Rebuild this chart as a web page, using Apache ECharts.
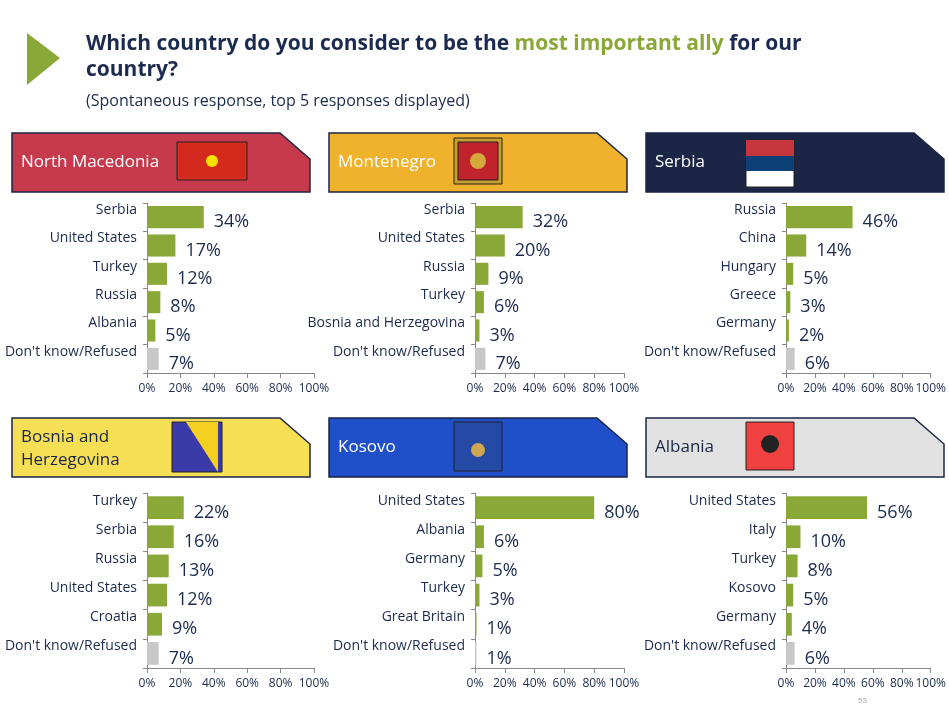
<!DOCTYPE html>
<html>
<head>
<meta charset="utf-8">
<script src="https://cdn.jsdelivr.net/npm/echarts@6/dist/echarts.min.js"></script>
<style>body{margin:0;background:#fff}#main{width:949px;height:716px}</style>
</head>
<body>
<div id="main"></div>
<script>
var panelNames = ['North Macedonia','Montenegro','Serbia','Bosnia and\nHerzegovina','Kosovo','Albania'];
var catsNM = ['Serbia','United States','Turkey','Russia','Albania',"Don't know/Refused"];
var valsNM = [34,17,12,8,5,7];
var catsME = ['Serbia','United States','Russia','Turkey','Bosnia and Herzegovina',"Don't know/Refused"];
var valsME = [32,20,9,6,3,7];
var catsRS = ['Russia','China','Hungary','Greece','Germany',"Don't know/Refused"];
var valsRS = [46,14,5,3,2,6];
var catsBA = ['Turkey','Serbia','Russia','United States','Croatia',"Don't know/Refused"];
var valsBA = [22,16,13,12,9,7];
var catsXK = ['United States','Albania','Germany','Turkey','Great Britain',"Don't know/Refused"];
var valsXK = [80,6,5,3,1,1];
var catsAL = ['United States','Italy','Turkey','Kosovo','Germany',"Don't know/Refused"];
var valsAL = [56,10,8,5,4,6];
var xTicks = [0,20,40,60,80,100];

var cats = [catsNM,catsME,catsRS,catsBA,catsXK,catsAL];
var vals = [valsNM,valsME,valsRS,valsBA,valsXK,valsAL];
var headColors = ['#c63a4b','#f0b22c','#1b2546','#f7df55','#1f50c9','#e2e2e2'];
var headText = ['#fff','#fff','#fff','#1b2546','#fff','#1b2546'];
var navy = '#1b2a4e', green = '#8aa838';
var ff = 'Open Sans';

var colX = [[147,314],[475,624],[786,933]];
var rowY = [[203,373],[493,668]];
var headX = [12,329,646], headY = [133,418];

var grids=[],xAxes=[],yAxes=[],series=[],graphics=[];
for (var i=0;i<6;i++){
  var c=i%3, r=Math.floor(i/3);
  grids.push({left:colX[c][0],width:colX[c][1]-colX[c][0],top:rowY[r][0],height:rowY[r][1]-rowY[r][0]});
  xAxes.push({gridIndex:i,type:'value',min:0,max:100,interval:20,
    axisLine:{show:true,lineStyle:{color:'#888'}},axisTick:{show:true,lineStyle:{color:'#888'}},
    splitLine:{show:false},axisLabel:{formatter:'{value}%',color:navy,fontSize:12,fontFamily:ff,margin:10,showMaxLabel:true,showMinLabel:true,hideOverlap:false}});
  yAxes.push({gridIndex:i,type:'category',inverse:true,data:cats[i],
    axisLine:{show:true,lineStyle:{color:'#888'}},axisTick:{show:true,length:4,lineStyle:{color:'#888'}},
    axisLabel:{color:navy,fontSize:14,fontFamily:ff,margin:10,verticalAlign:'bottom'}});
  series.push({type:'bar',xAxisIndex:i,yAxisIndex:i,barWidth:'78%',
    data:vals[i].map(function(v,k){return {value:v,itemStyle:{color:k==5?'#c8c8c8':green}};}),
    label:{show:true,position:'right',formatter:'{c}%',color:navy,fontSize:18,fontFamily:ff,distance:10,offset:[0,5]}});
  var hx=headX[c], hy=headY[r], w=298, h=59;
  graphics.push({type:'polygon',shape:{points:[[hx,hy],[hx+w-30,hy],[hx+w,hy+26],[hx+w,hy+h],[hx,hy+h]]},
    style:{fill:headColors[i],stroke:'#1b2546',lineWidth:1.5}});
  graphics.push({type:'text',left:hx+9,top:hy+(i==3?8:18),style:{text:panelNames[i],fill:headText[i],fontSize:17,fontFamily:ff,lineHeight:23}});
}
// simple flags
function rect(x,y,w,h,f){graphics.push({type:'rect',shape:{x:x,y:y,width:w,height:h},style:{fill:f,stroke:'#222',lineWidth:1}});}
rect(177,142,70,38,'#d52b1e');
graphics.push({type:'circle',shape:{cx:212,cy:161,r:6},style:{fill:'#f8e300'}});
rect(454,138,48,46,'#c8a030');rect(458,142,40,38,'#c0232c');
graphics.push({type:'circle',shape:{cx:478,cy:161,r:8},style:{fill:'#d4a83a'}});
rect(746,140,48,47,'#fff');
graphics.push({type:'rect',shape:{x:746,y:140,width:48,height:16},style:{fill:'#c6363c'}});
graphics.push({type:'rect',shape:{x:746,y:156,width:48,height:15},style:{fill:'#0c4076'}});
rect(172,422,50,50,'#3a3aa8');
graphics.push({type:'polygon',shape:{points:[[186,422],[218,422],[218,472]]},style:{fill:'#f5d020'}});
rect(454,422,48,49,'#244aa5');
graphics.push({type:'circle',shape:{cx:478,cy:450,r:7},style:{fill:'#d0a650'}});
rect(746,422,48,48,'#f04040');
graphics.push({type:'circle',shape:{cx:770,cy:444,r:9},style:{fill:'#222'}});
// title decoration
graphics.push({type:'polygon',shape:{points:[[27,33],[60,58],[27,85]]},style:{fill:green}});
graphics.push({type:'text',left:86,top:31,style:{rich:{a:{fill:navy,fontSize:21,fontWeight:'bold',fontFamily:ff},b:{fill:green,fontSize:21,fontWeight:'bold',fontFamily:ff}},
  text:'{a|Which country do you consider to be the }{b|most important ally}{a| for our}\n{a|country?}',lineHeight:26}});
graphics.push({type:'text',left:86,top:93,style:{text:'(Spontaneous response, top 5 responses displayed)',fill:navy,fontSize:16,fontFamily:ff}});
graphics.push({type:'text',left:858,top:697,style:{text:'53',fill:'#aaa',fontSize:8}});

var chart = echarts.init(document.getElementById('main'));
chart.setOption({animation:false,grid:grids,xAxis:xAxes,yAxis:yAxes,series:series,graphic:graphics});
</script>
</body>
</html>
